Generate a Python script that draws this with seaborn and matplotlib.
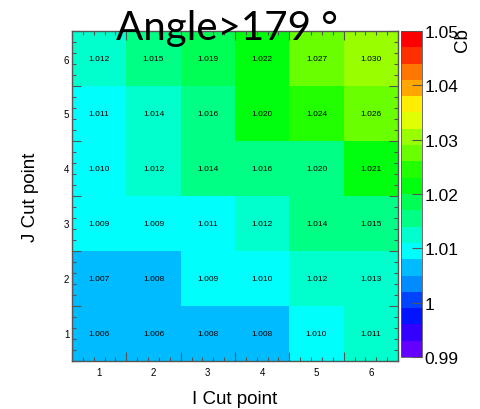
import colorsys
import numpy as np
import pandas as pd
import matplotlib
matplotlib.use("Agg")
import matplotlib.pyplot as plt
import seaborn as sns
from matplotlib.colors import ListedColormap

# cut point bins
i_cuts = [1, 2, 3, 4, 5, 6]
j_cuts = [6, 5, 4, 3, 2, 1]  # top row first

# Cb per cell (rows J=6..1, cols I=1..6)
cb_j6 = [1.012, 1.015, 1.019, 1.022, 1.027, 1.030]
cb_j5 = [1.0108, 1.0138, 1.016, 1.0202, 1.024, 1.0262]
cb_j4 = [1.010, 1.012, 1.0142, 1.016, 1.0165, 1.021]
cb_j3 = [1.009, 1.009, 1.0108, 1.012, 1.0142, 1.015]
cb_j2 = [1.007, 1.0077, 1.009, 1.010, 1.012, 1.013]
cb_j1 = [1.006, 1.006, 1.0078, 1.0078, 1.010, 1.0112]

# numbers printed in the cells
txt_j6 = ["1.012", "1.015", "1.019", "1.022", "1.027", "1.030"]
txt_j5 = ["1.011", "1.014", "1.016", "1.020", "1.024", "1.026"]
txt_j4 = ["1.010", "1.012", "1.014", "1.016", "1.020", "1.021"]
txt_j3 = ["1.009", "1.009", "1.011", "1.012", "1.014", "1.015"]
txt_j2 = ["1.007", "1.008", "1.009", "1.010", "1.012", "1.013"]
txt_j1 = ["1.006", "1.006", "1.008", "1.008", "1.010", "1.011"]

cbar_ticks = [0.99, 1.00, 1.01, 1.02, 1.03, 1.04, 1.05]
cbar_labels = ["0.99", "1", "1.01", "1.02", "1.03", "1.04", "1.05"]

df = pd.DataFrame([cb_j6, cb_j5, cb_j4, cb_j3, cb_j2, cb_j1], index=j_cuts, columns=i_cuts)
labels = np.array([txt_j6, txt_j5, txt_j4, txt_j3, txt_j2, txt_j1])

# ROOT "pretty" palette (hue 280 -> 0), 20 contour levels
zmin, zmax, nlev = 0.99, 1.05, 20
pal = []
for k in range(nlev):
    idx = int((k + 0.99) * 50 / nlev)
    hue = 280 - (idx + 1) * 280 / 50
    pal.append(colorsys.hls_to_rgb(hue / 360, 0.5, 1.0))
cmap = ListedColormap(pal)

fig = plt.figure(figsize=(4.81, 4.10), dpi=100)
ax = fig.add_axes([72 / 481, 1 - 362 / 410, 326 / 481, 330 / 410])
cax = fig.add_axes([401 / 481, 1 - 358 / 410, 21 / 481, 326 / 410])

sns.heatmap(df, ax=ax, cbar_ax=cax, cmap=cmap, vmin=zmin, vmax=zmax,
            annot=labels, fmt="",
            annot_kws=dict(fontsize=6, color="black", family="Liberation Sans"))

frame = "#555555"
for s in ax.spines.values():
    s.set_visible(True)
    s.set_color(frame)
    s.set_linewidth(1.0)

# ticks at bin edges plus subdivisions, drawn inwards on all sides
ax.set_xticks(np.arange(0, 7), labels=[])
ax.set_xticks(np.arange(0, 6.01, 0.2), minor=True)
ax.set_yticks(np.arange(0, 7), labels=[])
ax.set_yticks(np.arange(0, 6.01, 0.2), minor=True)
ax.tick_params(which="both", direction="in", top=True, right=True,
               bottom=True, left=True, color=frame, width=0.8)
ax.tick_params(which="major", length=6.5)
ax.tick_params(which="minor", length=3)
ax.set_xlabel("")
ax.set_ylabel("")

# bin labels at the cell centres
secx = ax.secondary_xaxis("bottom")
secx.set_xticks(np.arange(6) + 0.5, labels=[str(v) for v in i_cuts])
secx.tick_params(length=0, labelsize=7, pad=4)
secx.spines["bottom"].set_visible(False)
for t in secx.get_xticklabels():
    t.set_family("Liberation Sans")

secy = ax.secondary_yaxis("left")
secy.set_yticks(np.arange(6) + 0.5, labels=[str(v) for v in j_cuts])
secy.tick_params(length=0, labelsize=7, pad=2)
secy.spines["left"].set_visible(False)
for t in secy.get_yticklabels():
    t.set_family("Liberation Sans")

secx.set_xlabel("I Cut point", fontsize=13.5, family="Liberation Sans", labelpad=10)
secy.set_ylabel("J Cut point", fontsize=13.5, family="Liberation Sans", labelpad=18)

cbar = ax.collections[0].colorbar
cbar.set_ticks(cbar_ticks, labels=cbar_labels)
cbar.outline.set_linewidth(0.6)
cbar.outline.set_edgecolor(frame)
cax.tick_params(direction="in", length=7, width=0.8, color=frame, labelsize=12.5, pad=2)
for t in cax.get_yticklabels():
    t.set_family("Liberation Sans")

fig.text(463 / 481, 1 - 28 / 410, "Cb", rotation=90, ha="center", va="top",
         fontsize=13.5, family="Liberation Sans")
fig.text(227 / 481, 1 - 40 / 410, "Angle>179 \u00b0", ha="center", va="baseline",
         fontsize=29, family="Lato")

fig.savefig("out.png", dpi=100)
